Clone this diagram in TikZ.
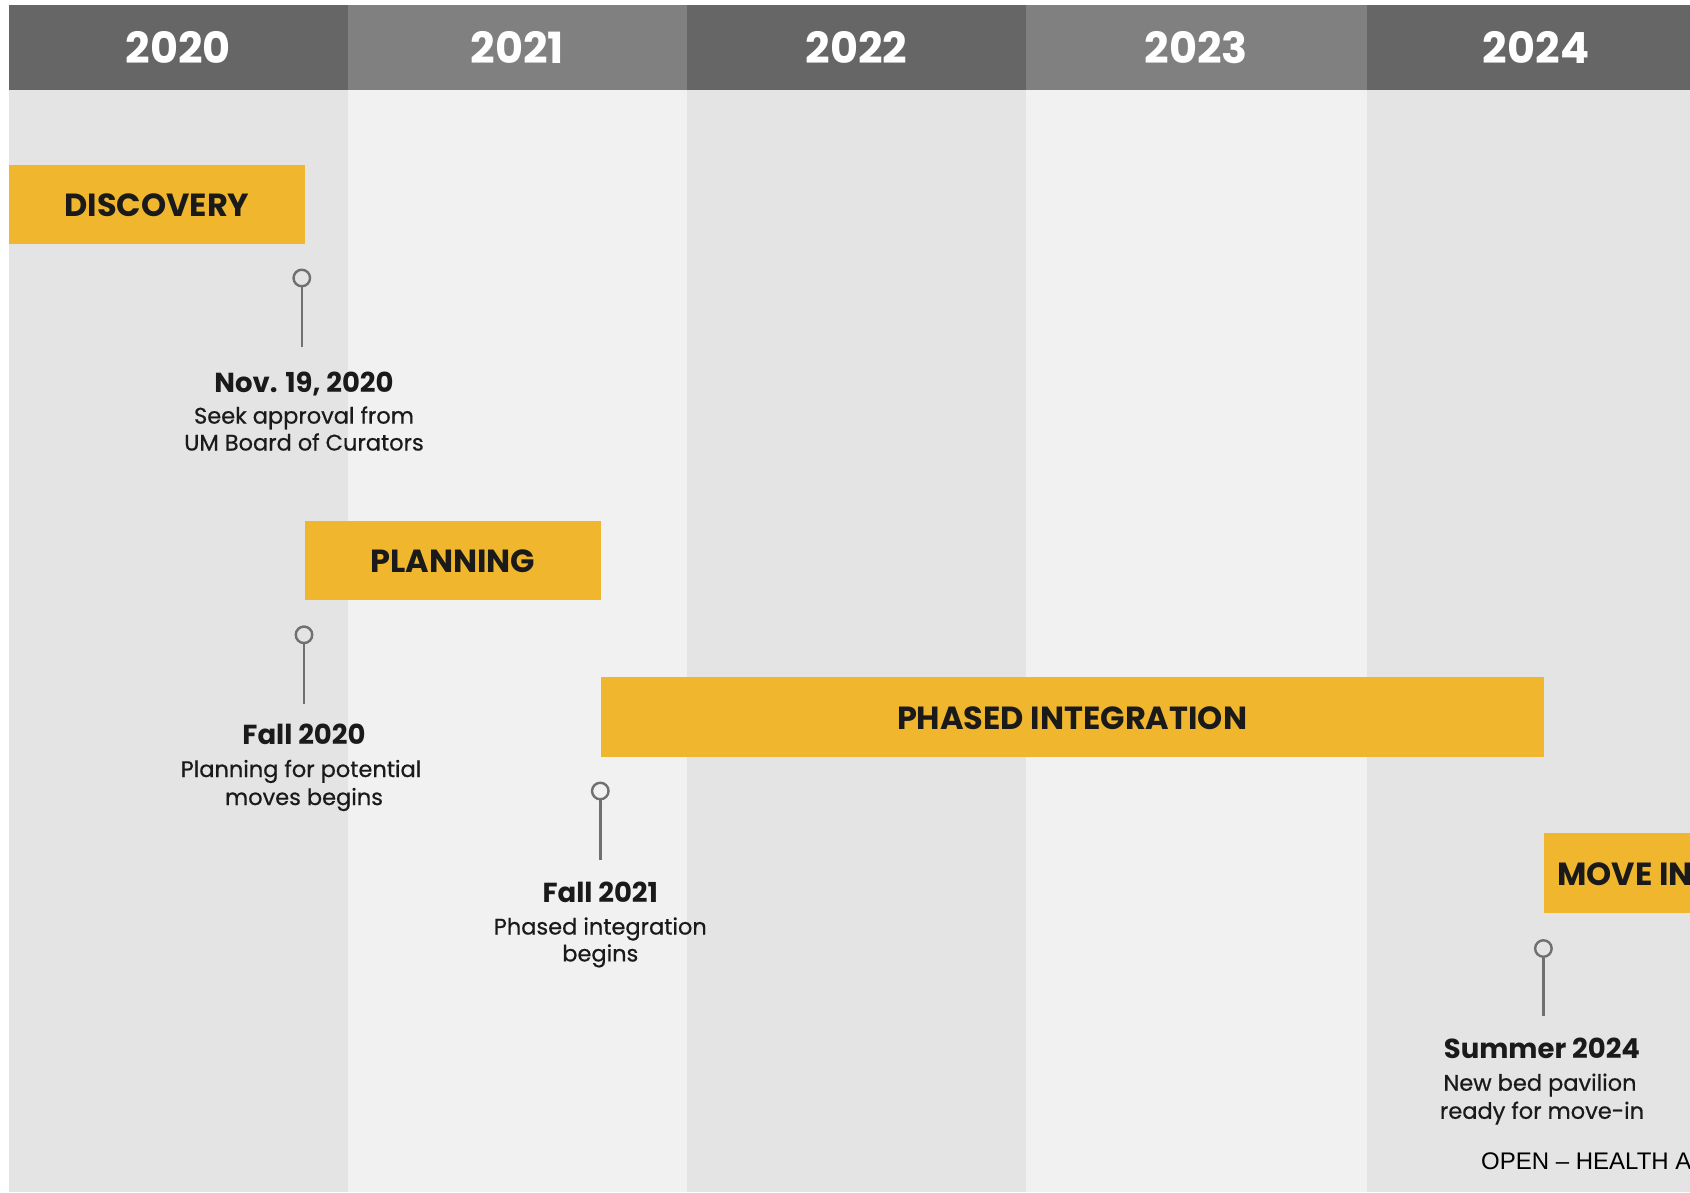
\documentclass[tikz,border=0pt]{standalone}
\usepackage{fontspec}
\setmainfont{Poppins}
\newfontfamily\descfont{Poppins}[FakeBold=0.6]
\newfontfamily\arialfont{Liberation Sans}
\definecolor{headdark}{HTML}{666666}
\definecolor{headlight}{HTML}{808080}
\definecolor{bodydark}{HTML}{E4E4E4}
\definecolor{bodylight}{HTML}{F1F1F1}
\definecolor{baryellow}{HTML}{F0B72E}
\definecolor{inkdark}{HTML}{1A1A1A}
\definecolor{pingray}{HTML}{707070}
\tikzset{
  yearlbl/.style={text=white, font=\fontsize{43}{50}\selectfont\bfseries, anchor=base, inner sep=0},
  barbox/.style={fill=baryellow, draw=none, inner sep=0, anchor=north west},
  barlbl/.style={text=inkdark, font=\fontsize{32}{38}\selectfont\bfseries, inner sep=0},
  pinhead/.style={circle, draw=pingray, line width=2.4pt, fill=none, minimum size=16.5pt, inner sep=0},
  pinline/.style={draw=pingray, line width=2.4pt},
  mtitle/.style={text=inkdark, font=\fontsize{27.5}{33}\selectfont\bfseries, anchor=base, inner sep=0},
  mdesc/.style={text=inkdark, font=\descfont\fontsize{22.5}{27}\selectfont, anchor=base, inner sep=0},
}
\begin{document}
\begin{tikzpicture}[x=1pt,y=-1pt]
\useasboundingbox (0,0) rectangle (1690,1192);
\clip (0,0) rectangle (1690,1192);
\fill[white] (0,0) rectangle (1690,1192);
% body columns
\fill[bodydark]  (8.6,89.5) rectangle (348,1192);
\fill[bodylight] (348,89.5) rectangle (686.6,1192);
\fill[bodydark]  (686.6,89.5) rectangle (1026,1192);
\fill[bodylight] (1026,89.5) rectangle (1366.7,1192);
\fill[bodydark]  (1366.7,89.5) rectangle (1710,1192);
% header
\fill[headdark]  (8.6,5.4) rectangle (348,89.5);
\fill[headlight] (348,5.4) rectangle (686.6,89.5);
\fill[headdark]  (686.6,5.4) rectangle (1026,89.5);
\fill[headlight] (1026,5.4) rectangle (1366.7,89.5);
\fill[headdark]  (1366.7,5.4) rectangle (1710,89.5);
\node[yearlbl] (y2020) at (178.3,63) {2020};
\node[yearlbl] (y2021) at (517.3,63) {2021};
\node[yearlbl] (y2022) at (856.3,63) {2022};
\node[yearlbl] (y2023) at (1196.3,63) {2023};
\node[yearlbl] (y2024) at (1536,63) {2024};
% bars
\node[barbox, minimum width=296.4pt, minimum height=78.6pt] (disc) at (8.6,165) {};
\node[barlbl] (disct) at ([yshift=-1pt]disc.center) {DISCOVERY};
\node[barbox, minimum width=295.3pt, minimum height=78.7pt] (plan) at (305,520.6) {};
\node[barlbl] (plant) at ([yshift=-1pt]plan.center) {PLANNING};
\node[barbox, minimum width=943.1pt, minimum height=79.7pt] (phase) at (600.3,676.9) {};
\node[barlbl] (phaset) at ([yshift=-1pt]phase.center) {PHASED INTEGRATION};
\node[barbox, minimum width=200pt, minimum height=80pt] (move) at (1543.4,833) {};
\node[barlbl, anchor=west] (movet) at ([xshift=13.6pt,yshift=-1pt]move.west) {MOVE IN};
% pins
\node[pinhead] (p1) at (301.8,278) {};
\coordinate (p1e) at (301.8,347);
\draw[pinline] (p1) -- (p1e);
\node[pinhead] (p2) at (304,634.8) {};
\coordinate (p2e) at (304,703.8);
\draw[pinline] (p2) -- (p2e);
\node[pinhead] (p3) at (600.3,791) {};
\coordinate (p3e) at (600.3,860);
\draw[pinline] (p3) -- (p3e);
\node[pinhead] (p4) at (1543.4,948.5) {};
\coordinate (p4e) at (1543.4,1016);
\draw[pinline] (p4) -- (p4e);
% milestone texts
\node[mtitle] (m1t) at (304,392) {Nov. 19, 2020};
\node[mdesc] (m1a) at (304,423.6) {Seek approval from};
\node[mdesc] (m1b) at (304,450.5) {UM Board of Curators};
\node[mtitle] (m2t) at (304,744.8) {Fall 2020};
\node[mdesc] (m2a) at (301,777) {Planning for potential};
\node[mdesc] (m2b) at (304,805) {moves begins};
\node[mtitle] (m3t) at (600.3,902) {Fall 2021};
\node[mdesc] (m3a) at (600.3,934.5) {Phased integration};
\node[mdesc] (m3b) at (600.3,961.4) {begins};
\node[mtitle] (m4t) at (1542,1058.4) {Summer 2024};
\node[mdesc] (m4a) at (1540,1090.7) {New bed pavilion};
\node[mdesc] (m4b) at (1542,1118.8) {ready for move-in};
% footer
\node[anchor=base west, inner sep=0, text=black, font=\arialfont\fontsize{24}{28}\selectfont] (foot) at (1481,1169) {OPEN – HEALTH A};
\end{tikzpicture}
\end{document}
